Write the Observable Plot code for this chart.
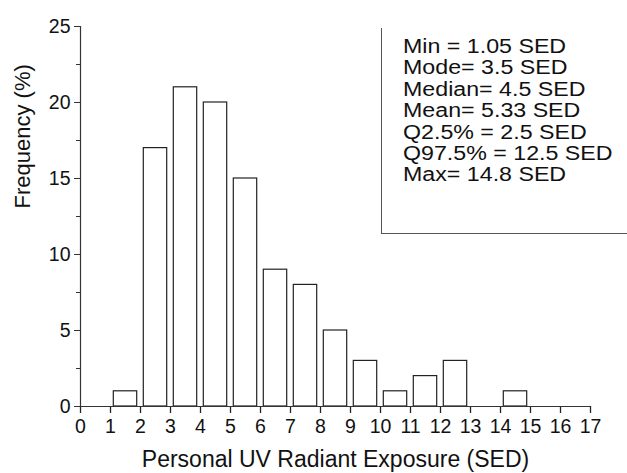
<!DOCTYPE html>
<html>
<head>
<meta charset="utf-8">
<script src="https://cdn.jsdelivr.net/npm/d3@7"></script>
<script src="https://cdn.jsdelivr.net/npm/@observablehq/plot@0.6"></script>
<style>
  body { margin: 0; background: #fff; }
  #wrap { position: relative; width: 627px; height: 473px; overflow: hidden; font-family: "Liberation Sans", Arial, sans-serif; }
  #stats { position: absolute; left: 381px; top: 28px; width: 260px; height: 206px;
    border-left: 1px solid #555; border-bottom: 1px solid #555; box-sizing: border-box;
    padding-left: 21px; padding-top: 8px; color: #111; }
  #stats .inner { font-size: 20px; line-height: 21.4px; transform: scaleX(1.16); transform-origin: 0 0; white-space: nowrap; }
</style>
</head>
<body>
<div id="wrap"></div>
<script>
const binStart = [1, 2, 3, 4, 5, 6, 7, 8, 9, 10, 11, 12, 13, 14];
const frequency = [1, 17, 21, 20, 15, 9, 8, 5, 3, 1, 2, 3, 0, 1];
const xTicks = [0,1,2,3,4,5,6,7,8,9,10,11,12,13,14,15,16,17];
const yTicks = [0, 5, 10, 15, 20, 25];
const yMinorTicks = [2.5, 7.5, 12.5, 17.5, 22.5];
const xTitle = "Personal UV Radiant Exposure (SED)";
const yTitle = "Frequency (%)";
const statLines = ["Min = 1.05 SED", "Mode= 3.5 SED", "Median= 4.5 SED", "Mean= 5.33 SED",
  "Q2.5% = 2.5 SED", "Q97.5% = 12.5 SED", "Max= 14.8 SED"];

const bins = binStart.map((s, i) => ({x1: s, x2: s + 1, y: frequency[i]})).filter(d => d.y > 0);

const chart = Plot.plot({
  width: 627, height: 473,
  marginLeft: 80, marginRight: 37, marginTop: 26, marginBottom: 67,
  style: {fontFamily: "Liberation Sans, Arial, sans-serif", background: "transparent", color: "#111"},
  x: {domain: [0, 17]},
  y: {domain: [0, 25]},
  marks: [
    Plot.rectY(bins, {x1: "x1", x2: "x2", y: "y", fill: "white", stroke: "#222", strokeWidth: 1.2, insetLeft: 3.3, insetRight: 3.3}),
    Plot.axisY({ticks: yTicks, tickSize: 6, tickPadding: 4, fontSize: 19.5, label: null, stroke: "#333"}),
    Plot.axisY({ticks: yMinorTicks, tickSize: 4, text: null, label: null, stroke: "#333"}),
    Plot.axisX({ticks: xTicks, tickSize: 7, tickPadding: 6, fontSize: 19.5, label: null, stroke: "#222", strokeWidth: 1.3}),
    Plot.ruleX([0], {stroke: "#333", strokeWidth: 1.2}),
    Plot.ruleY([0], {stroke: "#333", strokeWidth: 1.2}),
    Plot.text([xTitle], {frameAnchor: "bottom", dy: 53, lineAnchor: "middle", fontSize: 23, fill: "#111"}),
    Plot.text([yTitle], {frameAnchor: "left", dx: -58, dy: -8, rotate: -90, lineAnchor: "middle", fontSize: 22, fill: "#111"})
  ]
});

const wrap = document.getElementById("wrap");
wrap.appendChild(chart);
const box = document.createElement("div");
box.id = "stats";
const inner = document.createElement("div");
inner.className = "inner";
inner.innerHTML = statLines.map(s => `<div>${s}</div>`).join("");
box.appendChild(inner);
wrap.appendChild(box);
</script>
</body>
</html>
